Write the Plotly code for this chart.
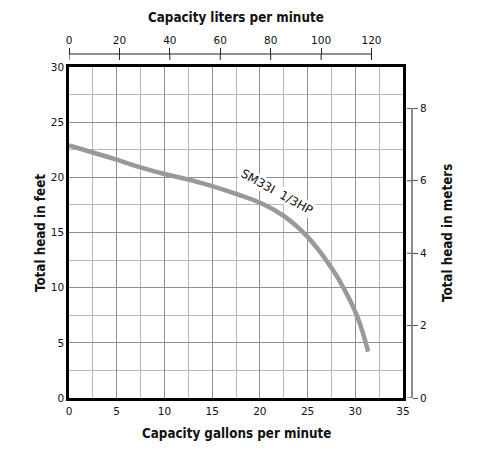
import plotly.graph_objects as go

# Data
gpm = [0, 2.5, 5, 7.5, 10, 12.5, 15, 17.5, 20, 22.5, 25, 27.5, 29.0, 30.2, 31.35]
head_ft = [22.9, 22.25, 21.6, 20.9, 20.3, 19.8, 19.2, 18.5, 17.7, 16.5, 14.6, 11.8, 9.6, 7.4, 4.2]
gpm_ticks = [0, 5, 10, 15, 20, 25, 30, 35]
ft_ticks = [0, 5, 10, 15, 20, 25, 30]
lpm_ticks = [0, 20, 40, 60, 80, 100, 120]
m_ticks = [0, 2, 4, 6, 8]
curve_label = "SM33I  1/3HP"

L_PER_GAL = 3.78541
M_PER_FT = 0.3048

W, H = 499, 467
ml, mr, mt, mb = 69, 87, 54, 69
pw, ph = W - ml - mr, H - mt - mb
plot_right, plot_top = 403, 67
xdom = (plot_right - ml) / pw
ydom = (H - mb - plot_top) / ph

def px(x):
    return (x - ml) / pw

def py(y):
    return (H - mb - y) / ph

tickfont = dict(family="DejaVu Sans", size=10.5, color="#111")
titlefont = dict(family="DejaVu Sans Condensed", size=13.3, color="#111")

fig = go.Figure()
fig.add_trace(go.Scatter(x=gpm, y=head_ft, mode="lines",
                         line=dict(color="#999999", width=4.5, shape="spline", smoothing=1.3),
                         hoverinfo="skip", showlegend=False))
# dummy traces to activate secondary axes
fig.add_trace(go.Scatter(x=[0], y=[0], xaxis="x2", yaxis="y", mode="markers",
                         marker=dict(opacity=0), showlegend=False, hoverinfo="skip"))
fig.add_trace(go.Scatter(x=[0], y=[0], xaxis="x", yaxis="y2", mode="markers",
                         marker=dict(opacity=0), showlegend=False, hoverinfo="skip"))

fig.update_layout(
    width=W, height=H, margin=dict(l=ml, r=mr, t=mt, b=mb),
    paper_bgcolor="white", plot_bgcolor="white",
    xaxis=dict(domain=[0, xdom], range=[0, 35], tickvals=gpm_ticks, showgrid=True,
               gridcolor="#8f8f8f", gridwidth=1, minor=dict(dtick=2.5, showgrid=True, gridcolor="#b8b8b8", gridwidth=1),
               showline=True, linecolor="black", linewidth=2.5, mirror=True, zeroline=False,
               ticks="", tickfont=tickfont, ticklabelstandoff=2, anchor="y"),
    yaxis=dict(domain=[0, ydom], range=[0, 30], tickvals=ft_ticks, showgrid=True,
               gridcolor="#8f8f8f", gridwidth=1, minor=dict(dtick=2.5, showgrid=True, gridcolor="#b8b8b8", gridwidth=1),
               showline=True, linecolor="black", linewidth=2.5, mirror=True, zeroline=False,
               ticks="", tickfont=tickfont, anchor="x"),
    xaxis2=dict(overlaying="x", side="top", anchor="free", position=1, domain=[0, xdom],
                range=[0, 35 * L_PER_GAL], tickvals=lpm_ticks, showgrid=False, showline=False,
                zeroline=False, ticks="outside", ticklen=6, tickwidth=1, tickcolor="#222",
                tickfont=tickfont),
    yaxis2=dict(overlaying="y", side="right", anchor="free", position=1, domain=[0, ydom],
                range=[0, 30 * M_PER_FT], tickvals=m_ticks, showgrid=False, showline=False,
                zeroline=False, ticks="outside", ticklen=5, tickwidth=1, tickcolor="#555",
                tickfont=tickfont),
)

shapes = []
# top axis line (0..120 L) and inner halves of ticks
shapes.append(dict(type="line", xref="x2", yref="paper", x0=lpm_ticks[0], x1=lpm_ticks[-1],
                   y0=1, y1=1, line=dict(color="#222", width=1)))
for t in lpm_ticks:
    shapes.append(dict(type="line", xref="x2", yref="paper", x0=t, x1=t, y0=1, y1=1 - 6 / ph,
                       line=dict(color="#222", width=1)))
# right axis line (0..8 m) and inner halves of ticks
shapes.append(dict(type="line", xref="paper", yref="y2", x0=1, x1=1, y0=m_ticks[0], y1=m_ticks[-1],
                   line=dict(color="#666", width=1.5)))
for t in m_ticks:
    shapes.append(dict(type="line", xref="paper", yref="y2", x0=1, x1=1 - 5 / pw, y0=t, y1=t,
                       line=dict(color="#555", width=1)))
fig.update_layout(shapes=shapes)

ann = [
    dict(text="<b>Capacity liters per minute</b>", x=px(236), y=py(17), xref="paper", yref="paper",
         showarrow=False, font=titlefont, xanchor="center", yanchor="middle"),
    dict(text="<b>Capacity gallons per minute</b>", x=px(236), y=py(433), xref="paper", yref="paper",
         showarrow=False, font=titlefont, xanchor="center", yanchor="middle"),
    dict(text="<b>Total head in feet</b>", x=px(40), y=py(233), xref="paper", yref="paper",
         showarrow=False, font=titlefont, textangle=-90, xanchor="center", yanchor="middle"),
    dict(text="<b>Total head in meters</b>", x=px(447), y=py(233), xref="paper", yref="paper",
         showarrow=False, font=titlefont, textangle=-90, xanchor="center", yanchor="middle"),
    dict(text=curve_label, x=21.8, y=18.7, xref="x", yref="y", showarrow=False,
         font=dict(family="DejaVu Sans", size=12, color="#111"), textangle=29,
         bgcolor="white", borderpad=0),
]
fig.update_layout(annotations=ann)

fig.write_html("out.html")
